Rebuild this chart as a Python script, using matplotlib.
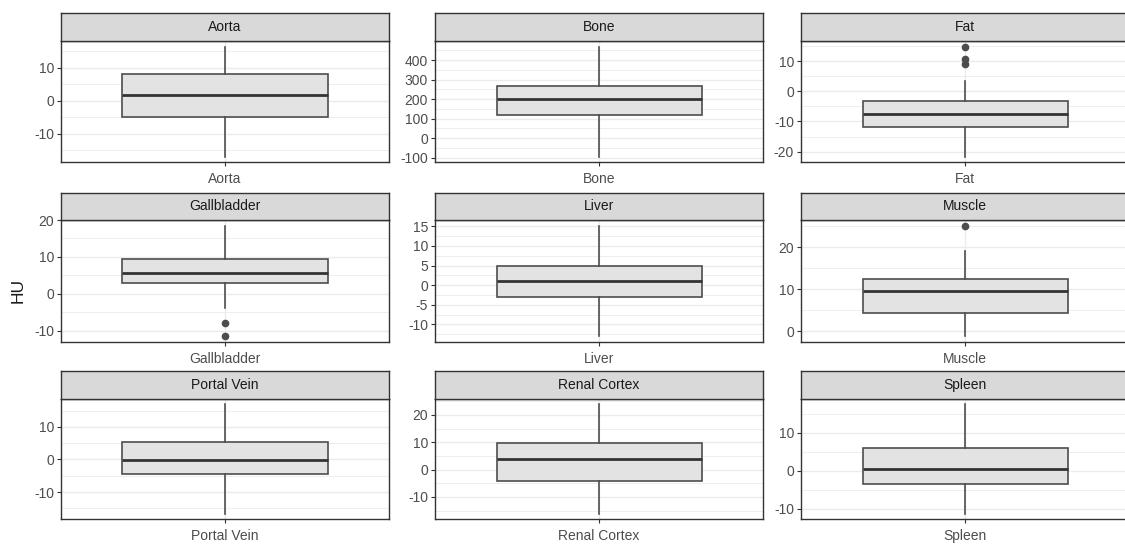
"""Faceted boxplots of HU by tissue (ggplot-like, free y scales)."""

import matplotlib

matplotlib.use("Agg")

import matplotlib.pyplot as plt
from matplotlib.ticker import MultipleLocator

plt.rcParams["font.family"] = ["Liberation Sans", "DejaVu Sans"]
plt.rcParams["axes.unicode_minus"] = False

# --- data (box stats per tissue) ---
tissues = ["Aorta", "Bone", "Fat", "Gallbladder", "Liver", "Muscle",
           "Portal Vein", "Renal Cortex", "Spleen"]
whisker_low = [-16.9, -94, -21.6, -4.0, -13.1, -1.3, -16.6, -16.1, -11.3]
q1 = [-4.9, 119, -11.7, 2.9, -3.1, 4.4, -4.4, -4.3, -3.4]
median = [1.6, 203, -7.4, 5.6, 0.95, 9.5, -0.3, 3.7, 0.45]
q3 = [8.0, 266, -3.1, 9.3, 5.0, 12.4, 5.4, 9.6, 5.9]
whisker_high = [16.4, 470, 3.3, 18.5, 15.2, 19.2, 16.9, 23.8, 17.4]
outliers = [[], [], [14.8, 10.8, 8.9], [-7.9, -11.6], [], [25.2], [], [], []]
tick_step = [10, 100, 10, 10, 5, 10, 10, 10, 10]

# --- layout in pixels ---
W, H = 1125, 544
col_x = [61, 435, 801]
col_w = 328
rows = [(13, 41, 162), (193, 220, 342), (371, 399, 519)]

GRID = "#EBEBEB"
BORDER = "#333333"
TICK_TXT = "#4D4D4D"

fig = plt.figure(figsize=(W / 100, H / 100), dpi=100)


def box(x0, y0, w, h):
    return [x0 / W, 1 - (y0 + h) / H, w / W, h / H]


for i, name in enumerate(tissues):
    r, c = divmod(i, 3)
    s_top, p_top, p_bot = rows[r]
    ax = fig.add_axes(box(col_x[c], p_top, col_w, p_bot - p_top))
    strip = fig.add_axes(box(col_x[c], s_top, col_w, p_top - s_top))

    stats = [{
        "med": median[i], "q1": q1[i], "q3": q3[i],
        "whislo": whisker_low[i], "whishi": whisker_high[i],
        "fliers": outliers[i], "label": name,
    }]
    ax.bxp(
        stats, positions=[1], widths=0.75, patch_artist=True, showcaps=False,
        boxprops={"facecolor": "#E3E3E3", "edgecolor": "#4D4D4D", "linewidth": 1.2},
        medianprops={"color": "#333333", "linewidth": 2.0},
        whiskerprops={"color": "#4D4D4D", "linewidth": 1.2},
        flierprops={"marker": "o", "markerfacecolor": "#4D4D4D",
                    "markeredgecolor": "#4D4D4D", "markersize": 4.5},
        zorder=3,
    )

    vals = [whisker_low[i], whisker_high[i]] + outliers[i]
    lo, hi = min(vals), max(vals)
    pad = (hi - lo) * 0.05
    ax.set_ylim(lo - pad, hi + pad)
    ax.set_xlim(0.4, 1.6)

    ax.yaxis.set_major_locator(MultipleLocator(tick_step[i]))
    ax.yaxis.set_minor_locator(MultipleLocator(tick_step[i] / 2))
    ax.set_xticks([1])
    ax.set_xticklabels([name])
    ax.grid(True, which="major", color=GRID, linewidth=1.0, zorder=0)
    ax.grid(True, which="minor", axis="y", color=GRID, linewidth=0.6, zorder=0)
    ax.set_axisbelow(True)
    ax.tick_params(axis="both", which="major", length=3, width=0.8,
                   color=BORDER, labelcolor=TICK_TXT, labelsize=10)
    ax.tick_params(axis="x", pad=4)
    ax.tick_params(axis="y", pad=2)
    ax.tick_params(axis="y", which="minor", length=0)
    for sp in ax.spines.values():
        sp.set_color(BORDER)
        sp.set_linewidth(1.0)

    strip.set_facecolor("#D9D9D9")
    strip.set_xticks([])
    strip.set_yticks([])
    for sp in strip.spines.values():
        sp.set_color(BORDER)
        sp.set_linewidth(1.0)
    strip.text(0.5, 0.5, name, ha="center", va="center",
               fontsize=10, color="#1A1A1A", transform=strip.transAxes)

fig.text(18 / W, 1 - 290 / H, "HU", rotation=90, ha="center", va="center",
         fontsize=12.5, color="#1A1A1A")

fig.savefig("out.png", dpi=100)
